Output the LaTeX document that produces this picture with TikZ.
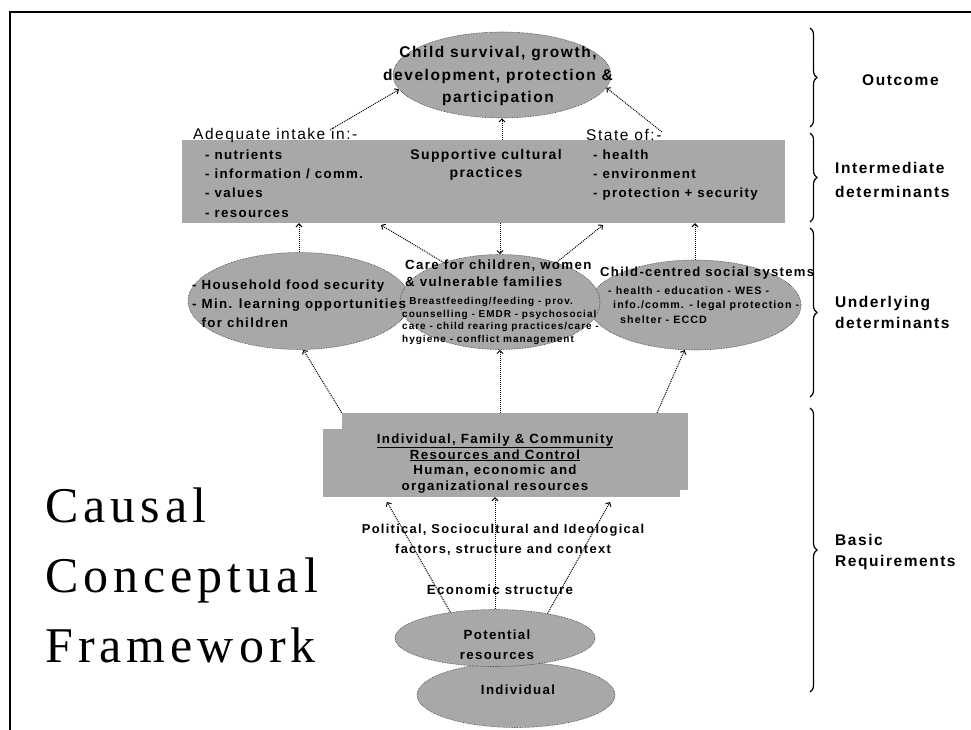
\documentclass[tikz,border=0pt]{standalone}
\usepackage{fontspec}
\setmainfont{Liberation Serif}
\newfontfamily\diagsans[LetterSpace=10]{Liberation Sans}
\newfontfamily\titleserif[LetterSpace=10]{Liberation Serif}
\usetikzlibrary{shapes.geometric,arrows.meta,decorations.pathreplacing}
\newcommand\fsz[2]{\fontsize{#1}{#2}\selectfont}
\begin{document}
\begin{tikzpicture}[x=1pt,y=-1pt,
  graydither/.style={fill=black!34},
  blob/.style={ellipse,graydither,draw=black!80,densely dotted,line width=0.6pt,inner sep=0pt},
  slab/.style={rectangle,graydither,inner sep=0pt},
  conn/.style={densely dotted,line width=1pt,-{Straight Barb[length=3pt,width=6pt]}},
  lbl/.style={inner sep=0pt,text=black},
  bracestyle/.style={decorate,decoration={brace,amplitude=7pt},line width=1.2pt},
  bodytext/.style={lbl,font=\diagsans\bfseries\fsz{13.3}{19}},
  sidetext/.style={lbl,font=\diagsans\bfseries\fsz{15.5}{23},align=left,anchor=west},
  titletext/.style={lbl,font=\titleserif\fsz{50}{70},anchor=base west},
]
\fill[white] (0,0) rectangle (971,730);
\useasboundingbox (0,0) rectangle (971,730);

% frame
\draw[line width=1.6pt] (10,730) -- (10,12) -- (971,12);

% shapes
\node[blob,minimum width=218pt,minimum height=86pt] (outc) at (502,75) {};
\node[slab,minimum width=603pt,minimum height=83pt] (inter) at (483.5,181.5) {};
\node[blob,minimum width=222pt,minimum height=97pt] (lefte) at (299,301) {};
\node[blob,minimum width=212pt,minimum height=90pt] (righte) at (695,305) {};
\node[blob,minimum width=200pt,minimum height=95pt] (mide) at (500,302) {};
\node[slab,minimum width=346pt,minimum height=77pt] (basicA) at (515,451.5) {};
\node[slab,minimum width=357pt,minimum height=68pt] (basicB) at (501.5,463) {};
\node[blob,minimum width=198pt,minimum height=65pt] (indiv) at (516,695) {};
\node[blob,minimum width=200pt,minimum height=57pt] (potent) at (495,638) {};

% texts
\node[lbl,font=\diagsans\bfseries\fsz{15.5}{22.5},align=center] (outct) at (498,76) {Child survival, growth,\\development, protection \&\\participation};
\node[lbl,font=\diagsans\fsz{15.5}{18},anchor=west] (adq) at (193,135) {Adequate intake in:-};
\node[bodytext,align=left,anchor=north west,font=\diagsans\bfseries\fsz{13.3}{19.3}] (intl) at (205,149.5) {- nutrients\\- information / comm.\\- values\\- resources};
\node[bodytext,align=center,font=\diagsans\bfseries\fsz{14}{18}] (supp) at (486,165) {Supportive cultural\\practices};
\node[lbl,font=\diagsans\fsz{15.5}{18},anchor=west] (stof) at (586,135) {State of:-};
\node[bodytext,align=left,anchor=north west] (intr) at (593,149.5) {- health\\- environment\\- protection + security};

\node[bodytext,align=left,anchor=north west] (leftt) at (192,279.5) {- Household food security\\- Min. learning opportunities\\\phantom{- }for children};
\node[bodytext,align=left,anchor=north west,font=\diagsans\bfseries\fsz{13.3}{17}] (midt) at (405,259.5) {Care for children, women\\\& vulnerable families};
\node[lbl,align=left,anchor=north west,font=\diagsans\bfseries\fsz{10}{12.7}] (mids) at (402,297) {- Breastfeeding/feeding - prov.\\counselling - EMDR - psychosocial\\care - child rearing practices/care -\\hygiene - conflict management};
\node[bodytext,anchor=north west,font=\diagsans\bfseries\fsz{13.1}{17}] (rightt) at (600,266.8) {Child-centred social systems};
\node[lbl,align=left,anchor=north west,font=\diagsans\bfseries\fsz{10.7}{14.5}] (rights) at (608,286.5) {- health - education - WES -\\\hspace{5pt}info./comm. - legal protection -\\\hspace{12pt}shelter - ECCD};

\node[bodytext,align=center,font=\diagsans\bfseries\fsz{13.3}{15.7}] (basict) at (495,463.5) {\underline{Individual, Family \& Community}\\\underline{Resources and Control}\\Human, economic and\\organizational resources};
\node[bodytext,align=center,font=\diagsans\bfseries\fsz{12.9}{20}] (polt) at (503,540) {Political, Sociocultural and Ideological\\factors, structure and context};
\node[bodytext] (econ) at (500,590) {Economic structure};
\node[bodytext,align=center,font=\diagsans\bfseries\fsz{13.3}{20}] (potentt) at (497,645) {Potential\\resources};
\node[bodytext] (indivt) at (518,690) {Individual};

\node[titletext] (titleA) at (45,522) {Causal};
\node[titletext] (titleB) at (45,592) {Conceptual};
\node[titletext] (titleC) at (45,662) {Framework};

% side braces and labels
\coordinate (brA1) at (810,28);  \coordinate (brA2) at (810,127);
\coordinate (brB1) at (810,133); \coordinate (brB2) at (810,222);
\coordinate (brC1) at (810,228); \coordinate (brC2) at (810,397);
\coordinate (brD1) at (810,408); \coordinate (brD2) at (810,692);
\draw[bracestyle] (brA1) -- (brA2);
\draw[bracestyle] (brB1) -- (brB2);
\draw[bracestyle] (brC1) -- (brC2);
\draw[bracestyle] (brD1) -- (brD2);
\node[sidetext] (sideA) at (862,80) {Outcome};
\node[sidetext,font=\diagsans\bfseries\fsz{15.5}{24}] (sideB) at (835,180) {Intermediate\\determinants};
\node[sidetext,font=\diagsans\bfseries\fsz{15.5}{21}] (sideC) at (835,312.5) {Underlying\\determinants};
\node[sidetext,font=\diagsans\bfseries\fsz{15.5}{21}] (sideD) at (835,551.5) {Basic\\Requirements};

% connector end points
\coordinate (a1) at (330,130);
\coordinate (a3) at (662,132);
\coordinate (b5) at (381,225);
\coordinate (b7) at (603,225);
\coordinate (b11) at (657,413);
\coordinate (c12) at (387,502);
\coordinate (c14) at (610,502);

% connectors
\draw[conn] (a1) -- (outc.188);
\draw[conn] (outc.south |- inter.north) -- (outc.south);
\draw[conn] (a3) -- (outc.-7);
\draw[conn] (lefte.north) -- (lefte.north |- inter.south);
\draw[conn] (mide.145) -- (b5);
\draw[conn] (inter.south -| mide.north) -- (mide.north);
\draw[conn] (mide.35) -- (b7);
\draw[conn] (righte.north) -- (righte.north |- inter.south);
\draw[conn] (basicA.north west) -- (lefte.-85);
\draw[conn] (mide.south |- basicA.north) -- (mide.south);
\draw[conn] (b11) -- (righte.-103);
\draw[conn] (potent.150) -- (c12);
\draw[conn] (potent.north) -- (potent.north |- basicB.south);
\draw[conn] (potent.25) -- (c14);
\end{tikzpicture}
\end{document}
